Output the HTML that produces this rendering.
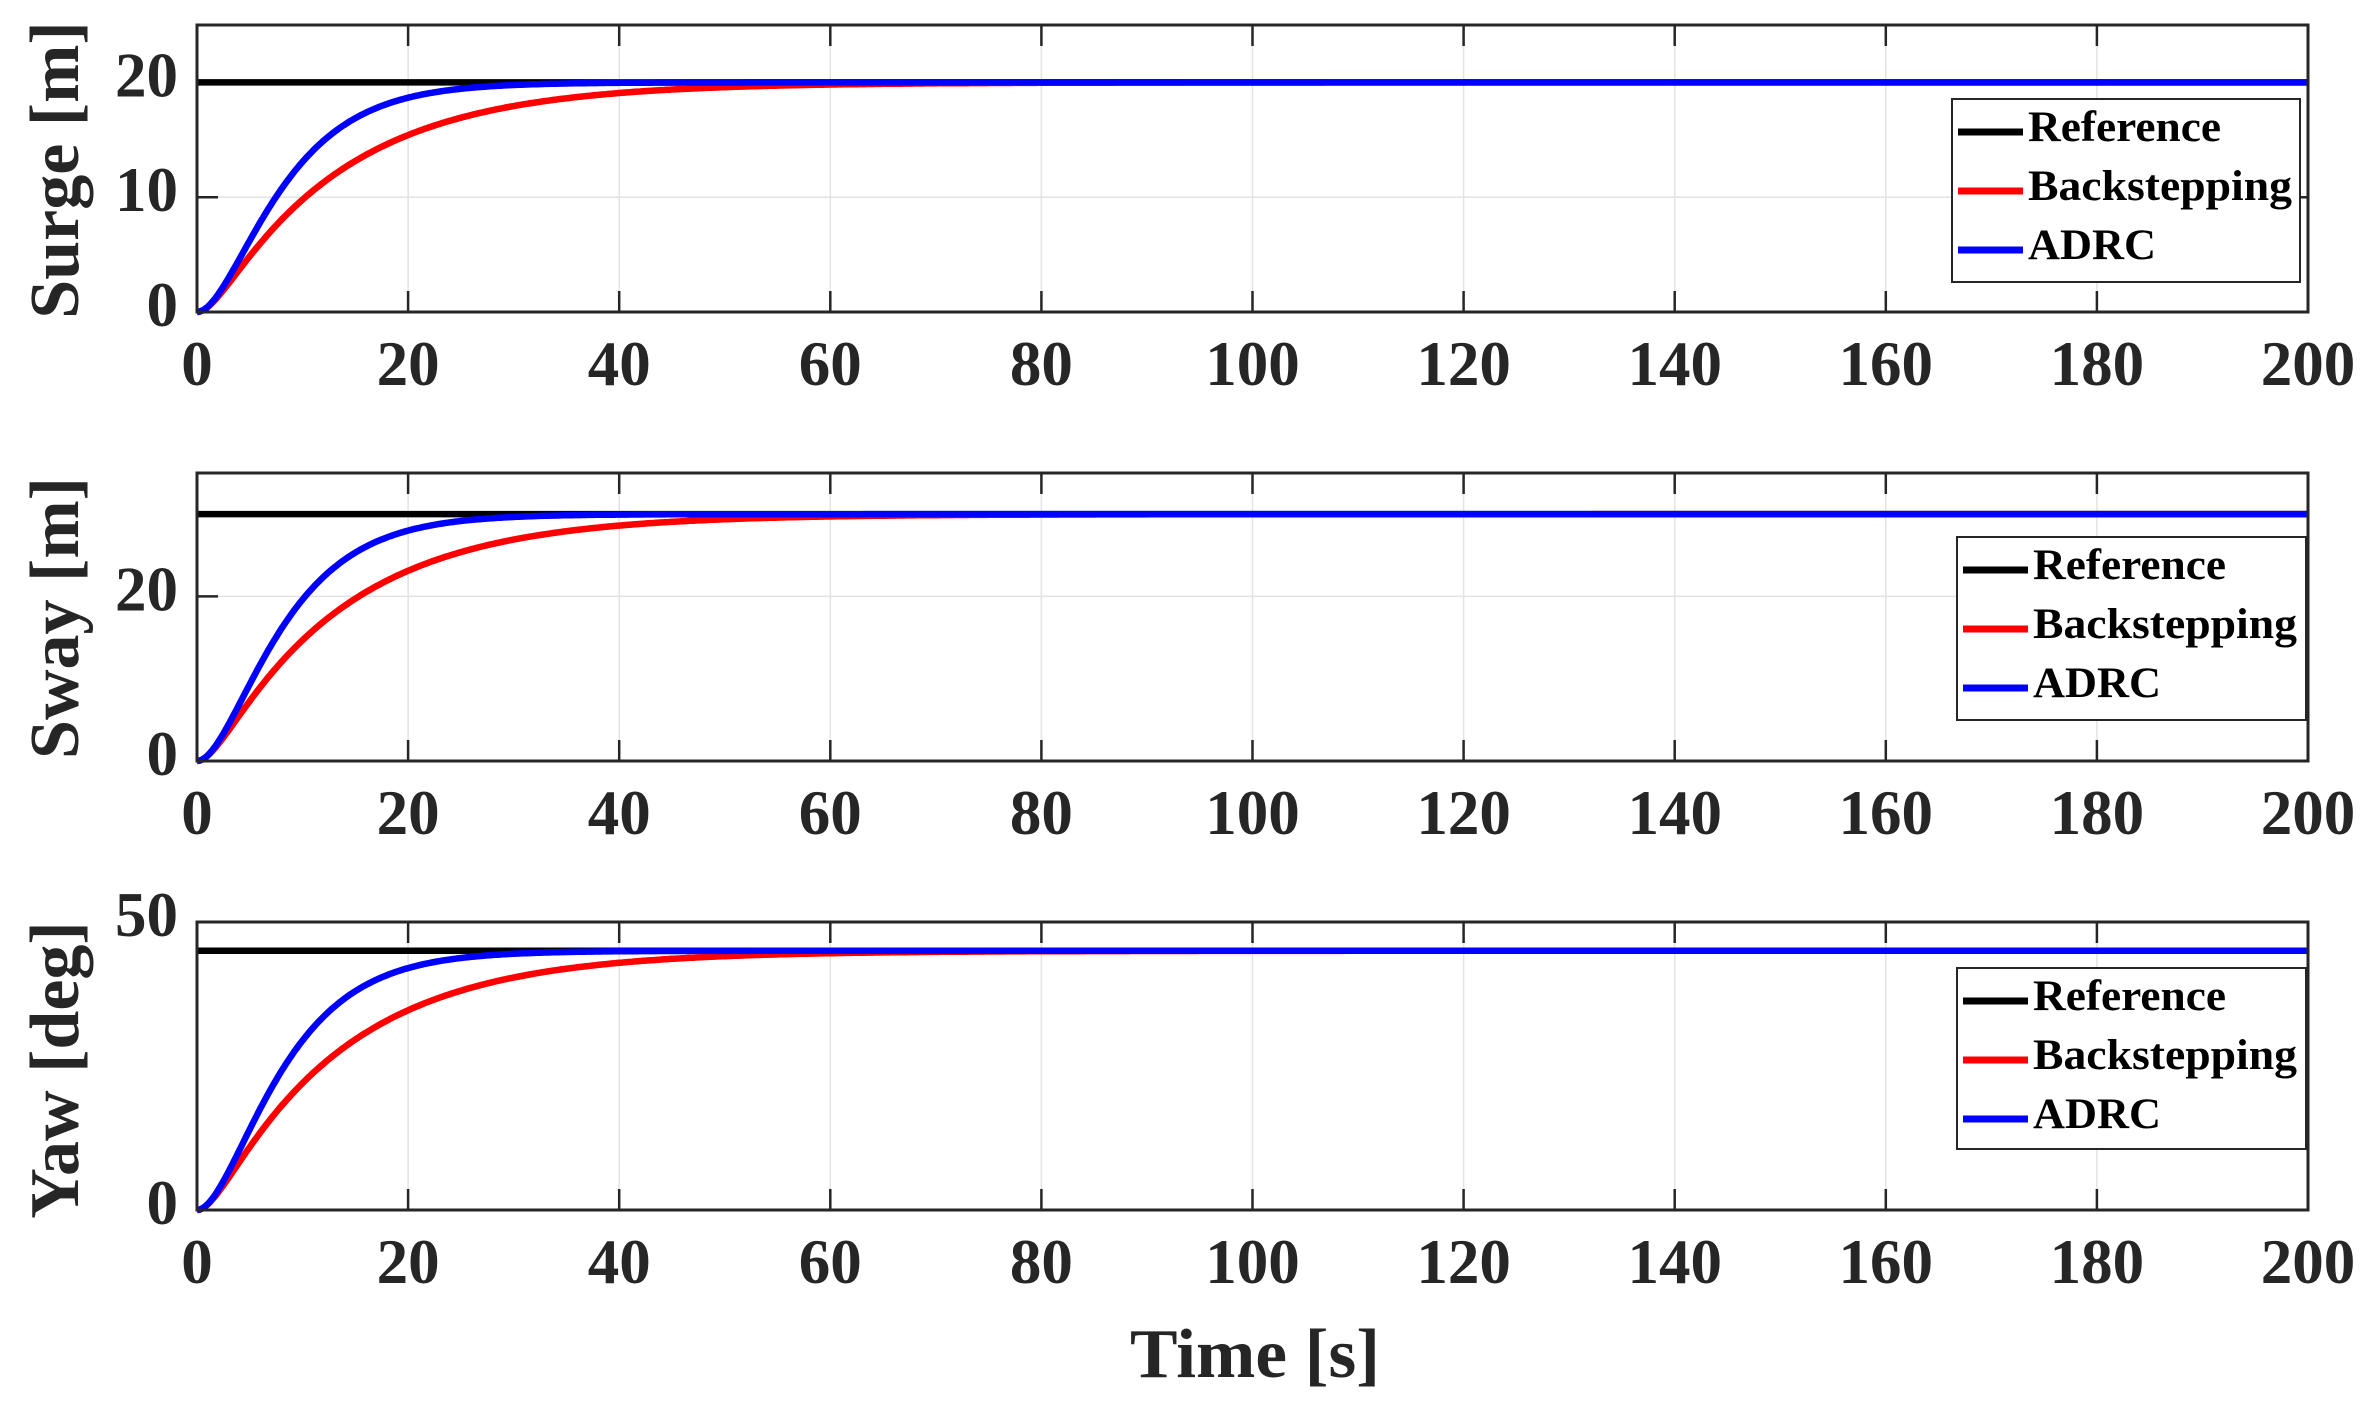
<!DOCTYPE html>
<html><head><meta charset="utf-8">
<style>
html,body{margin:0;padding:0;background:#fff;}
svg{display:block;}
text{font-family:"Liberation Serif",serif;font-weight:bold;}
</style></head>
<body>
<svg id="s" width="2363" height="1402" xmlns="http://www.w3.org/2000/svg"></svg>
<script>
const S=document.getElementById('s');
let h='';
const X0=197,X1=2308;
const xs=t=>X0+(X1-X0)*t/200;
function resp(t,a,b){ if(t<=0)return 0; return 1-(a*Math.exp(-t/a)-b*Math.exp(-t/b))/(a-b);}
const plots=[
 {top:25,bot:312,ymax:25,ref:20,yt:[0,10,20],lab:'Surge [m]',lc:170,leg:[1952,99,2300,282]},
 {top:473,bot:761,ymax:35,ref:30,yt:[0,20],lab:'Sway [m]',lc:618,leg:[1957,537,2306,720]},
 {top:922,bot:1210,ymax:50,ref:45,yt:[0,50],lab:'Yaw [deg]',lc:1070,leg:[1957,968,2306,1149]}
];
for(const p of plots){
 const ys=v=>p.bot-(p.bot-p.top)*v/p.ymax;
 for(let t=20;t<200;t+=20)h+=`<line x1="${xs(t)}" y1="${p.top}" x2="${xs(t)}" y2="${p.bot}" stroke="#e3e3e3" stroke-width="1.5"/>`;
 for(const v of p.yt){ if(v>0&&v<p.ymax)h+=`<line x1="${X0}" y1="${ys(v)}" x2="${X1}" y2="${ys(v)}" stroke="#e3e3e3" stroke-width="1.5"/>`;}
 for(let t=0;t<=200;t+=20){const x=xs(t);h+=`<line x1="${x}" y1="${p.bot}" x2="${x}" y2="${p.bot-21}" stroke="#262626" stroke-width="2.5"/><line x1="${x}" y1="${p.top}" x2="${x}" y2="${p.top+21}" stroke="#262626" stroke-width="2.5"/>`;
  h+=`<text x="${x}" y="${p.bot+73}" font-size="63" fill="#262626" text-anchor="middle">${t}</text>`;}
 for(const v of p.yt){const y=ys(v);h+=`<line x1="${X0}" y1="${y}" x2="${X0+21}" y2="${y}" stroke="#262626" stroke-width="2.5"/><line x1="${X1}" y1="${y}" x2="${X1-21}" y2="${y}" stroke="#262626" stroke-width="2.5"/>`;
  h+=`<text x="178" y="${y+14}" font-size="63" fill="#262626" text-anchor="end">${v}</text>`;}
 let r='',b='';
 for(let i=0;i<=800;i++){const t=i*0.25;const xx=xs(t).toFixed(1);
  r+=(i?'L':'M')+xx+','+ys(p.ref*resp(t,12.5,1.5)).toFixed(1);
  b+=(i?'L':'M')+xx+','+ys(p.ref*resp(t,5.5,3.5)).toFixed(1);}
 h+=`<line x1="${X0}" y1="${ys(p.ref)}" x2="${X1}" y2="${ys(p.ref)}" stroke="#000" stroke-width="6.5"/>`;
 h+=`<path d="${r}" fill="none" stroke="#ff0000" stroke-width="6.5"/>`;
 h+=`<path d="${b}" fill="none" stroke="#0000ff" stroke-width="6.5"/>`;
 h+=`<rect x="${X0}" y="${p.top}" width="${X1-X0}" height="${p.bot-p.top}" fill="none" stroke="#262626" stroke-width="3"/>`;
 h+=`<text transform="translate(78,${p.lc}) rotate(-90)" font-size="70" fill="#262626" text-anchor="middle">${p.lab}</text>`;
 const [lx,ly,rx,ry]=p.leg;
 h+=`<rect x="${lx}" y="${ly}" width="${rx-lx}" height="${ry-ly}" fill="#fff" stroke="#262626" stroke-width="2"/>`;
 const names=['Reference','Backstepping','ADRC'],cols=['#000','#ff0000','#0000ff'],tl=[193,264,128];
 for(let k=0;k<3;k++){const yy=ly+33+59*k;
  h+=`<line x1="${lx+6}" y1="${yy}" x2="${lx+71}" y2="${yy}" stroke="${cols[k]}" stroke-width="7"/>`;
  h+=`<text x="${lx+76}" y="${yy+9}" font-size="43" fill="#000" textLength="${tl[k]}" lengthAdjust="spacingAndGlyphs">${names[k]}</text>`;}
}
h+=`<text x="1255" y="1377" font-size="70" fill="#262626" text-anchor="middle" textLength="250" lengthAdjust="spacingAndGlyphs">Time [s]</text>`;
S.innerHTML=h;
</script>
</body></html>
